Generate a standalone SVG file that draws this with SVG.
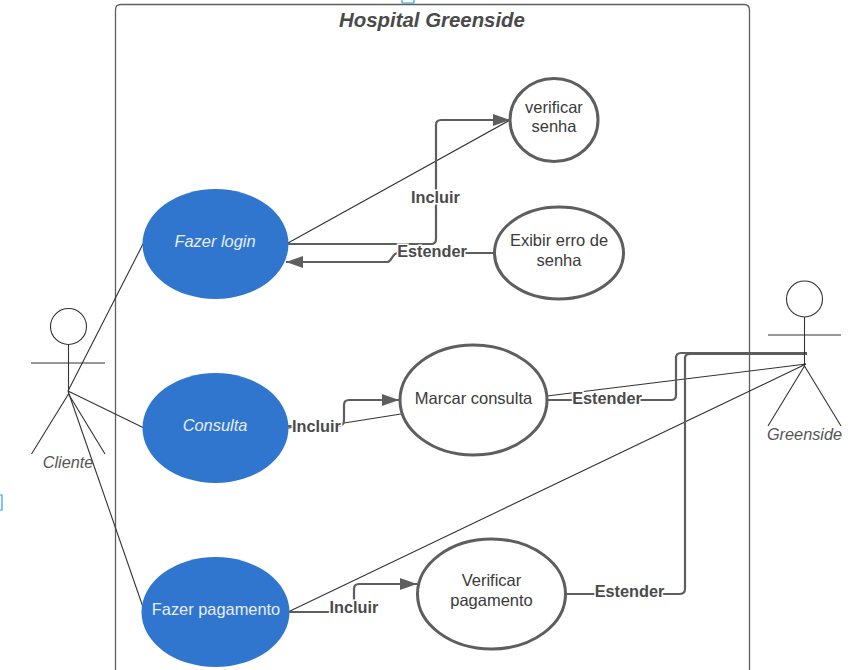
<svg xmlns="http://www.w3.org/2000/svg" width="862" height="670" viewBox="0 0 862 670">
<defs>
<marker id="arrow" markerUnits="userSpaceOnUse" markerWidth="18" markerHeight="14" refX="17" refY="6" orient="auto"><path d="M0 0L17 6L0 12Z" fill="#5e5e5e"/></marker>
</defs>
<style>
text{font-family:"Liberation Sans",Arial,sans-serif;fill:#3a3a3a}
.uc{fill:#fff;stroke:#5e5e5e;stroke-width:3}
.blue{fill:#3076cf;stroke:none}
.wt{fill:#e8edf5;font-size:16.400px;text-anchor:middle;font-style:italic}
.bt{font-size:16.500px;text-anchor:middle}
.thin{fill:none;stroke:#333;stroke-width:1.1}
.conn{fill:none;stroke:#5e5e5e;stroke-width:2.2}
.lab{font-size:16.300px;font-weight:bold;text-anchor:middle;fill:#4a4a4a;stroke:#fff;stroke-width:3;paint-order:stroke}
.act{fill:#fff;stroke:#333;stroke-width:1.1}
.actl{font-size:16.300px;font-style:italic;text-anchor:middle;fill:#555}
</style>
<rect width="862" height="670" fill="#fff"/>
<path d="M402 3V0M414 3V0M402 3H414" fill="none" stroke="#29a3e0" stroke-width="1.2"/>
<path d="M0 495H2V510H0" fill="none" stroke="#29a3e0" stroke-width="1.2"/>
<g id="system">
<path d="M115.500 670V10Q115.500 4.500 121 4.500H744Q749.500 4.500 749.500 10V670" fill="none" stroke="#5e5e5e" stroke-width="1.300"/>
<text x="432" y="26.500" font-size="20.400" font-weight="bold" font-style="italic" text-anchor="middle" style="fill:#4a4a4a">Hospital Greenside</text>
</g>
<g id="connectors">
<path class="thin" d="M68 391L144 242M68 391L144 428M68 391L144 610"/>
<path class="thin" d="M288 243L510 120M288 428L344 423M344 423L401 414M547 396L806 364M288 612L806 364"/>
<path class="conn" marker-end="url(#arrow)" d="M288 244H431Q436 244 436 239V125Q436 120 441 120H510"/>
<path class="conn" marker-end="url(#arrow)" d="M495 253H398C392 253 392 262 387 262H286"/>
<path class="conn" marker-end="url(#arrow)" d="M288 426H338Q344 426 344 420V405Q344 400 349 400H399"/>
<path class="conn" d="M547 400H671Q676 400 676 395V358Q676 353 681 353H807"/>
<path class="conn" marker-end="url(#arrow)" d="M288 612H349Q354 612 354 607V589Q354 584 359 584H417"/>
<path class="conn" d="M566 594H679Q685 594 685 589V358Q685 354 690 354H807"/>
<text class="lab" x="435.500" y="203">Incluir</text>
<text class="lab" x="432" y="257">Estender</text>
<text class="lab" x="316.500" y="432">Incluir</text>
<text class="lab" x="607" y="404">Estender</text>
<text class="lab" x="354" y="613">Incluir</text>
<text class="lab" x="629.500" y="597">Estender</text>
</g>
<g id="fazer-login"><ellipse class="blue" cx="215.500" cy="244" rx="73" ry="55"/><text class="wt" x="215" y="247">Fazer login</text></g>
<g id="consulta"><ellipse class="blue" cx="215.500" cy="428" rx="73" ry="55"/><text class="wt" x="215" y="431">Consulta</text></g>
<g id="fazer-pagamento"><ellipse class="blue" cx="215.500" cy="612" rx="74" ry="55"/><text class="wt" x="216" y="615" style="font-style:normal">Fazer pagamento</text></g>
<g id="verificar-senha"><ellipse class="uc" cx="554" cy="120" rx="44" ry="41.500"/><text class="bt" x="554" y="113">verificar</text><text class="bt" x="554" y="132">senha</text></g>
<g id="exibir-erro"><ellipse class="uc" cx="559" cy="253" rx="64.500" ry="46"/><text class="bt" x="559" y="246">Exibir erro de</text><text class="bt" x="559" y="266">senha</text></g>
<g id="marcar-consulta"><ellipse class="uc" cx="473.500" cy="400" rx="73.500" ry="55"/><text class="bt" x="473.500" y="404">Marcar consulta</text></g>
<g id="verificar-pagamento"><ellipse class="uc" cx="491.500" cy="594" rx="74" ry="55"/><text class="bt" x="491.500" y="586">Verificar</text><text class="bt" x="491.500" y="606">pagamento</text></g>
<g id="cliente">
<circle class="act" cx="68.500" cy="326.500" r="18"/>
<path class="thin" d="M68.500 345V394M31 363H105M68.500 394L31.500 454M68.500 394L105 454"/>
<text class="actl" x="68" y="468">Cliente</text>
</g>
<g id="greenside">
<circle class="act" cx="804.500" cy="299" r="18"/>
<path class="thin" d="M804.500 317V366M768 335H841M804.500 366L768 426M804.500 366L841 426"/>
<text class="actl" x="804.500" y="440">Greenside</text>
</g>
</svg>
